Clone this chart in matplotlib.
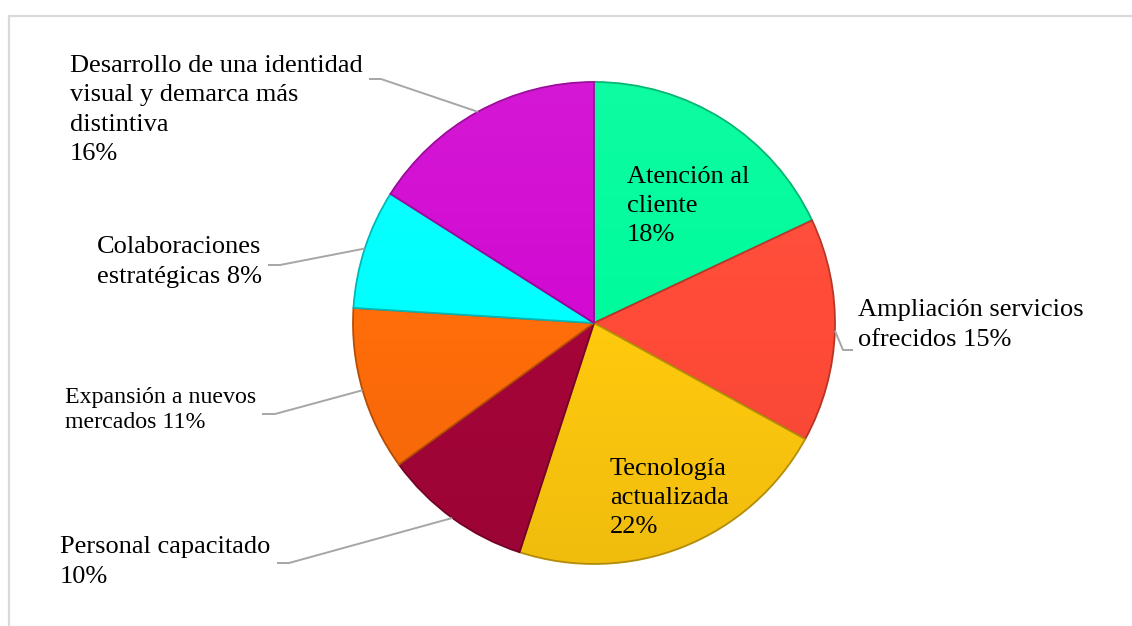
import numpy as np
import matplotlib.pyplot as plt
import matplotlib.colors as mcolors
from matplotlib.patches import Rectangle, Circle

plt.rcParams['font.family'] = ['Liberation Serif', 'DejaVu Serif']

categories = ['Atención al\ncliente', 'Ampliación servicios\nofrecidos',
              'Tecnología\nactualizada', 'Personal capacitado\n',
              'Expansión a nuevos\nmercados', 'Colaboraciones\nestratégicas',
              'Desarrollo de una identidad\nvisual y demarca más\ndistintiva\n']
shares = [18, 15, 22, 10, 11, 8, 16]
colors = ['#00FB9C', '#FF4B38', '#FFC90E', '#A50538', '#FF6C0A', '#00FFFF', '#D20AD2']

W, H = 1132, 626
fig = plt.figure(figsize=(W / 100, H / 100), dpi=100)
ax = fig.add_axes([0, 0, 1, 1])

def py(y):
    # screen-style y (from top) to axes y
    return H - y

cx, cy, r = 594, py(323), 241
edge_cols = [tuple(np.array(mcolors.to_rgb(c)) * 0.72) for c in colors]
wedges, _ = ax.pie(shares, colors=colors, startangle=90, counterclock=False,
                   center=(cx, cy), radius=r, frame=True,
                   wedgeprops=dict(linewidth=1.3))
for w, ec in zip(wedges, edge_cols):
    w.set_edgecolor(ec)

# chart frame
ax.add_patch(Rectangle((8.5, py(1000)), 1200, 1000 - 15.5, fill=False,
                       edgecolor='#D9D9D9', lw=1.6, zorder=0))

# light bevel shading over the pie: brighter top, slightly darker bottom
grad = np.linspace(0, 1, 256).reshape(-1, 1)
shade = np.zeros((256, 1, 4))
shade[..., :3] = np.where(grad[..., None] < 0.5, 1.0, 0.0)
shade[..., 3] = np.abs(grad - 0.5) * 0.12
im = ax.imshow(shade, extent=(cx - r, cx + r, cy - r, cy + r), origin='upper',
               aspect='auto', zorder=3, interpolation='bilinear')
im.set_clip_path(Circle((cx, cy), r, transform=ax.transData))

ax.set_xlim(0, W)
ax.set_ylim(0, H)
ax.set_aspect('equal')
ax.axis('off')

# mid angle of each wedge
bounds = 90 - np.cumsum([0] + shares) * 3.6
mids = np.deg2rad((bounds[:-1] + bounds[1:]) / 2)

def edge_pt(i):
    return cx + r * np.cos(mids[i]), cy + r * np.sin(mids[i])

lead = dict(color='#A6A6A6', lw=1.4, zorder=4, solid_capstyle='butt')
fs = 19
ls = 1.42

# labels inside slices
ax.text(627, py(206), f'{categories[0]}\n{shares[0]}%', fontsize=fs,
        ha='left', va='center', zorder=5, linespacing=ls)
ax.text(610, py(498), f'{categories[2]}\n{shares[2]}%', fontsize=fs,
        ha='left', va='center', zorder=5, linespacing=ls)

# outside labels with leader lines
ax.text(858, py(325), f'{categories[1]} {shares[1]}%', fontsize=fs,
        ha='left', va='center', linespacing=ls)
ex, ey = edge_pt(1)
ax.plot([853, 843, ex], [py(350), py(350), ey], **lead)

ax.text(60, py(562), f'{categories[3]}{shares[3]}%', fontsize=fs,
        ha='left', va='center', linespacing=ls)
ex, ey = edge_pt(3)
ax.plot([277, 289, ex], [py(563), py(563), ey], **lead)

ax.text(65, py(410), f'{categories[4]} {shares[4]}%', fontsize=17.2,
        ha='left', va='center', linespacing=1.3)
ex, ey = edge_pt(4)
ax.plot([262, 275, ex], [py(414), py(414), ey], **lead)

ax.text(97, py(262), f'{categories[5]} {shares[5]}%', fontsize=fs,
        ha='left', va='center', linespacing=ls)
ex, ey = edge_pt(5)
ax.plot([268, 280, ex], [py(265), py(265), ey], **lead)

ax.text(70, py(110), f'{categories[6]}{shares[6]}%', fontsize=fs,
        ha='left', va='center', linespacing=ls)
ex, ey = edge_pt(6)
ax.plot([369, 381, ex], [py(79), py(79), ey], **lead)

fig.savefig('out.png', dpi=100, facecolor='white')
